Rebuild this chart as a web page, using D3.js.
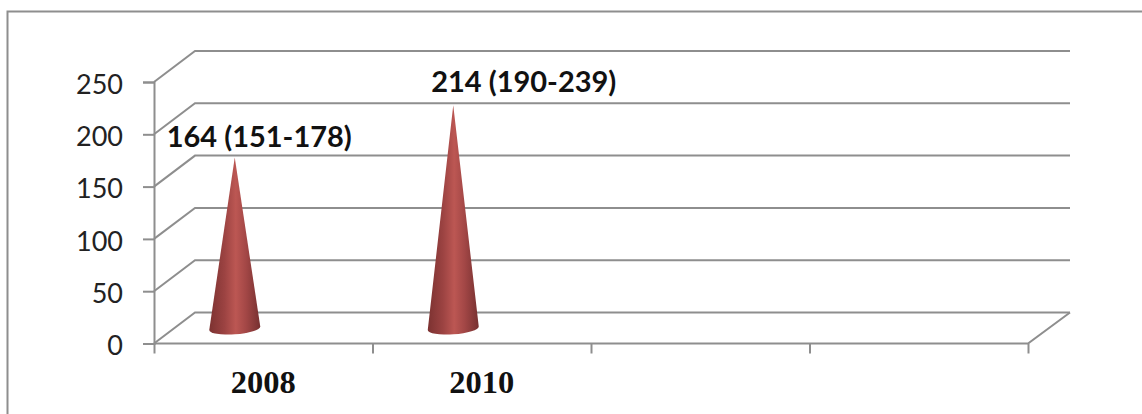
<!DOCTYPE html>
<html>
<head>
<meta charset="utf-8">
<style>
  html, body { margin: 0; padding: 0; background: #fff; }
  svg { display: block; }
  .value-tick text { font-family: Lato, sans-serif; font-size: 27px; fill: #222; }
  .cat-label { font-family: "Liberation Serif", serif; font-weight: 700; font-size: 32.5px; fill: #111; }
  .cone-label { font-family: Lato, sans-serif; font-weight: 700; font-size: 28px; fill: #111; }
</style>
</head>
<body>
<svg id="chart" width="1142" height="414"></svg>
<script src="https://cdn.jsdelivr.net/npm/d3@7"></script>
<script>
const categories = ["2008", "2010", "slot3", "slot4"];
const visibleCategories = ["2008", "2010"];
const values = [164, 214];
const valueLabels = ["164 (151-178)", "214 (190-239)"];
const valueTicks = [0, 50, 100, 150, 200, 250];

const grey = "#8e8e8e";
const svg = d3.select("#chart");

// Front plane of the box and the shift to its back wall.
const x0 = 154, x1 = 1028, y0 = 343.5, y1 = 82;
const depthX = 41, depthY = -31;

const x = d3.scaleBand().domain(categories).range([x0, x1]);
const y = d3.scaleLinear().domain([0, 250]).range([y0, y1]);

// Outer frame, open on the right and at the bottom.
svg.append("path")
  .attr("d", "M7.5,414V11.5H1142")
  .attr("fill", "none").attr("stroke", grey).attr("stroke-width", 2);

// Gridlines: along the back wall, plus the receding edge on the left.
const grid = svg.append("g").attr("fill", "none").attr("stroke", grey).attr("stroke-width", 2);
valueTicks.forEach(v => {
  const path = d3.path();
  path.moveTo(x0, y(v));
  path.lineTo(x0 + depthX, y(v) + depthY);
  path.lineTo(x1 + depthX + 1, y(v) + depthY);
  grid.append("path").attr("d", path.toString());
});
// Floor: front edge and right-hand receding edge.
const floor = d3.path();
floor.moveTo(x0, y0);
floor.lineTo(x1, y0);
floor.lineTo(x1 + depthX + 1, y0 + depthY);
grid.append("path").attr("d", floor.toString());

// Value axis.
const yAxis = svg.append("g").attr("class", "value-tick")
  .attr("transform", `translate(${x0},0)`)
  .call(d3.axisLeft(y).tickValues(valueTicks).tickSize(11).tickPadding(20));
yAxis.select(".domain").attr("stroke", grey).attr("stroke-width", 2);
yAxis.selectAll("line").attr("stroke", grey).attr("stroke-width", 2);
yAxis.selectAll("text").attr("dy", "0.42em");

// Category axis: ticks sit on the band boundaries.
const boundaries = categories.map(c => x(c)).concat(x1);
const tickAxis = d3.scaleLinear().domain([x0, x1]).range([x0, x1]);
const xAxis = svg.append("g")
  .attr("transform", `translate(0,${y0})`)
  .call(d3.axisBottom(tickAxis).tickValues(boundaries).tickSize(10).tickFormat(""));
xAxis.select(".domain").remove();
xAxis.selectAll("line").attr("stroke", grey).attr("stroke-width", 2);

svg.selectAll(".cat-label").data(visibleCategories).join("text")
  .attr("class", "cat-label")
  .attr("text-anchor", "middle")
  .attr("x", c => x(c) + x.bandwidth() / 2)
  .attr("y", 393)
  .text(c => c);

// Cones stand midway through the box depth.
const coneShift = -28.5;
const coneBaseHalf = 25.5;
const coneX = c => x(c) + x.bandwidth() / 2 + coneShift;
const coneY = v => y(v) + depthY / 2;

const defs = svg.append("defs");
const grad = defs.append("linearGradient").attr("id", "coneFill")
  .attr("x1", "0").attr("x2", "1").attr("y1", "0").attr("y2", "0");
[[0, "#7c3231"], [0.3, "#9c4342"], [0.52, "#bc5753"], [0.72, "#a34746"], [1, "#763030"]]
  .forEach(([o, c]) => grad.append("stop").attr("offset", o).attr("stop-color", c));

svg.selectAll(".cone").data(values).join("path")
  .attr("class", "cone")
  .attr("fill", "url(#coneFill)")
  .attr("d", (v, i) => {
    const cx = coneX(visibleCategories[i]);
    const by = coneY(0);
    return `M${cx},${coneY(v) + 1}` +
      `L${cx + coneBaseHalf},${by - 1.5}` +
      `A${coneBaseHalf},6 -4 0 1 ${cx - coneBaseHalf},${by + 2}Z`;
  });

// Data labels were dragged clear of the cones, so each keeps its own shift.
const labelShifts = [[24.5, -9.5], [70.5, -12]];
svg.selectAll(".cone-label").data(values).join("text")
  .attr("class", "cone-label")
  .attr("text-anchor", "middle")
  .attr("textLength", 185)
  .attr("lengthAdjust", "spacingAndGlyphs")
  .attr("x", (v, i) => coneX(visibleCategories[i]) + labelShifts[i][0])
  .attr("y", (v, i) => coneY(v) + labelShifts[i][1])
  .text((v, i) => valueLabels[i]);
</script>
</body>
</html>
